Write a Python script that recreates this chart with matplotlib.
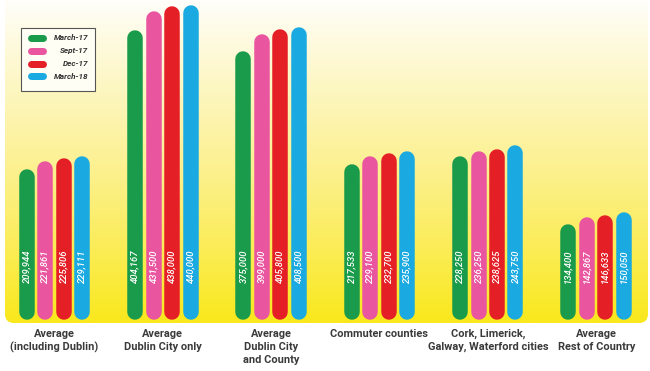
import numpy as np
import matplotlib.pyplot as plt
from matplotlib.patches import FancyBboxPatch
from matplotlib.colors import LinearSegmentedColormap

categories = ['Average\n(including Dublin)', 'Average\nDublin City only',
              'Average\nDublin City\nand County', 'Commuter counties',
              'Cork, Limerick,\nGalway, Waterford cities', 'Average\nRest of Country']
series = ['March-17', 'Sept-17', 'Dec-17', 'March-18']
march17 = [209944, 404167, 375000, 217533, 228250, 134400]
sept17 = [221861, 431500, 399000, 229100, 236250, 142867]
dec17 = [225806, 438000, 405800, 232700, 238625, 146633]
march18 = [229111, 440000, 408500, 235900, 243750, 150050]
values = [march17, sept17, dec17, march18]
colors = ['#1a9b4b', '#e9559f', '#e41f26', '#1ba9e1']

W, H = 650, 371
fig = plt.figure(figsize=(W / 100, H / 100), dpi=100)
fig.patch.set_facecolor('white')

# background panel with yellow gradient and rounded bottom corners
bg = fig.add_axes([0, 0, 1, 1])
bg.set_xlim(0, W)
bg.set_ylim(H, 0)
bg.axis('off')
cmap = LinearSegmentedColormap.from_list(
    'yel', [(0, '#fffefa'), (0.25, '#fdf7c6'), (0.55, '#fcf08a'), (0.8, '#fbec50'), (1, '#f9e81c')])
grad = np.linspace(0, 1, 256).reshape(-1, 1)
panel = FancyBboxPatch((5, -20), 643, 343, boxstyle='round,pad=0,rounding_size=9',
                       facecolor='none', edgecolor='none')
bg.add_patch(panel)
im = bg.imshow(grad, cmap=cmap, extent=(5, 648, 323, 0), aspect='auto')
im.set_clip_path(panel)

# bar axes: baseline at y=320px, 440,000 at y=5px
ax = fig.add_axes([0, 0, 1, 1])
ax.patch.set_alpha(0)
ax.axis('off')
base_px, top_px, top_val = 320, 5, 440000
scale = (base_px - top_px) / top_val
ax.set_xlim(-0.5, 5.5)
ax.set_ylim(-(H - base_px) / scale, base_px / scale)

xunit = W / 6.0
bw_px = 15.5
r = bw_px / 2 / scale
offsets = np.array([-27.5, -9.0, 9.5, 28.0]) / xunit
x = np.arange(len(categories))
for s, (vals, col) in enumerate(zip(values, colors)):
    for i, v in enumerate(vals):
        xc = x[i] + offsets[s]
        # capsule bar: thick line with round caps
        ax.plot([xc, xc], [r, v - r], color=col, lw=bw_px * 0.72,
                solid_capstyle='round')
        ax.text(xc, 75000, format(v, ','), rotation=90, ha='center', va='center',
                color='white', fontsize=6.8, style='italic', fontweight='medium',
                family=['Roboto', 'DejaVu Sans'])

for i, c in enumerate(categories):
    bg.text(54 + i * 108.5, 329, c, ha='center', va='top', fontsize=7.9,
            fontweight='bold', color='#3a3a3a', linespacing=1.35,
            family=['Roboto', 'DejaVu Sans'])

# legend
bg.add_patch(plt.Rectangle((21, 28), 74, 63, facecolor='#fffef4', edgecolor='#555555', lw=0.8))
for s, (name, col) in enumerate(zip(series, colors)):
    y = 38 + s * 12.8
    bg.plot([30.5, 42.5], [y, y], color=col, lw=7 * 0.72, solid_capstyle='round')
    bg.text(88, y, name, ha='right', va='center', fontsize=5.9, fontweight='bold',
            style='italic', color='#333333', family=['Roboto', 'DejaVu Sans'])

fig.savefig('out.png', dpi=100)
